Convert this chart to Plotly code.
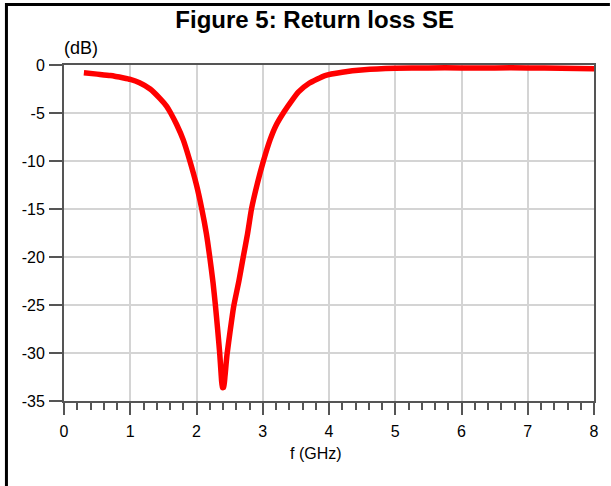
import plotly.graph_objects as go

# ---- data ----
freq_ghz = [0.3, 0.5, 0.7, 0.9, 1.0, 1.14, 1.3, 1.45, 1.55, 1.61, 1.7, 1.8, 1.9, 2.0,
            2.08, 2.15, 2.2, 2.25, 2.285, 2.32, 2.35, 2.37, 2.39, 2.41, 2.43, 2.46, 2.51,
            2.56, 2.64, 2.70, 2.77, 2.83, 2.92, 3.01, 3.11, 3.2, 3.32, 3.45, 3.54, 3.7,
            3.94, 4.2, 4.53, 5.0, 5.5, 6.0, 6.5, 7.0, 7.5, 8.0]
return_loss_db = [-0.8, -0.95, -1.1, -1.35, -1.5, -1.85, -2.5, -3.5, -4.3, -5.0, -6.2, -7.8,
                  -10.0, -12.5, -15.0, -17.6, -20.0, -22.7, -25.0, -27.6, -30.0, -32.0, -33.6,
                  -33.6, -32.4, -30.2, -27.6, -25.2, -22.5, -20.2, -17.6, -15.0, -12.3, -10.0,
                  -7.8, -6.3, -4.9, -3.6, -2.8, -1.9, -1.1, -0.75, -0.5, -0.35, -0.3, -0.3,
                  -0.3, -0.3, -0.35, -0.38]

x_tick_vals = [0, 1, 2, 3, 4, 5, 6, 7, 8]
y_tick_vals = [0, -5, -10, -15, -20, -25, -30, -35]
y_tick_labels = ["0", "-5", "-10", "-15", "-20", "-25", "-30", "-35"]

title_text = "Figure 5: Return loss SE"
y_unit_text = "(dB)"
x_title_text = "f (GHz)"

FONT = "Liberation Sans, Arial, sans-serif"
AXIS_COLOR = "#555555"
GRID_COLOR = "#d4d4d4"

fig = go.Figure()
fig.add_trace(go.Scatter(
    x=freq_ghz, y=return_loss_db, mode="lines",
    line=dict(color="#ff0000", width=5.5, shape="spline", smoothing=0.5),
    showlegend=False, hoverinfo="skip",
))

fig.update_layout(
    width=611, height=486,
    margin=dict(l=64, r=13, t=65, b=85),
    paper_bgcolor="white", plot_bgcolor="white",
    font=dict(family=FONT, color="black", size=16),
    title=dict(text="<b>" + title_text + "</b>", x=0.515, xref="container", xanchor="center",
               y=0.959, yref="container", yanchor="middle",
               font=dict(family=FONT, size=24, color="black")),
)

fig.update_xaxes(
    range=[0, 8], tickvals=x_tick_vals,
    showline=True, linecolor=AXIS_COLOR, linewidth=2, mirror=True,
    showgrid=True, gridcolor=GRID_COLOR, gridwidth=1.5,
    ticks="outside", ticklen=12, tickwidth=1.5, tickcolor=AXIS_COLOR,
    minor=dict(dtick=0.2, ticks="outside", ticklen=7, tickwidth=1.5, tickcolor=AXIS_COLOR,
               showgrid=False),
    tickfont=dict(family=FONT, size=16, color="black"),
    ticklabelstandoff=3,
    zeroline=False,
)
fig.update_yaxes(
    range=[-35, 0], tickvals=y_tick_vals, ticktext=y_tick_labels,
    showline=True, linecolor=AXIS_COLOR, linewidth=2, mirror=True,
    showgrid=True, gridcolor=GRID_COLOR, gridwidth=1.5,
    ticks="outside", ticklen=13, tickwidth=1.5, tickcolor=AXIS_COLOR,
    tickfont=dict(family=FONT, size=16, color="black"),
    ticklabelstandoff=1,
    zeroline=False,
)

fig.add_annotation(text=y_unit_text, xref="paper", yref="paper", x=-0.004, y=1.0506,
                   xanchor="left", yanchor="middle", showarrow=False,
                   font=dict(family=FONT, size=18, color="black"))
fig.add_annotation(text=x_title_text, xref="paper", yref="paper", x=0.4747, y=-0.1548,
                   xanchor="center", yanchor="middle", showarrow=False,
                   font=dict(family=FONT, size=16, color="black"))

# outer frame (top and left edges)
fig.add_shape(type="line", xref="paper", yref="paper", x0=-0.1086, x1=1.03, y0=1.1801, y1=1.1801,
              line=dict(color="black", width=3))
fig.add_shape(type="line", xref="paper", yref="paper", x0=-0.1086, x1=-0.1086, y0=1.1845, y1=-0.26,
              line=dict(color="black", width=3))

fig.write_html("out.html", config={"displayModeBar": False},
               post_script="document.body.style.margin='0';")
